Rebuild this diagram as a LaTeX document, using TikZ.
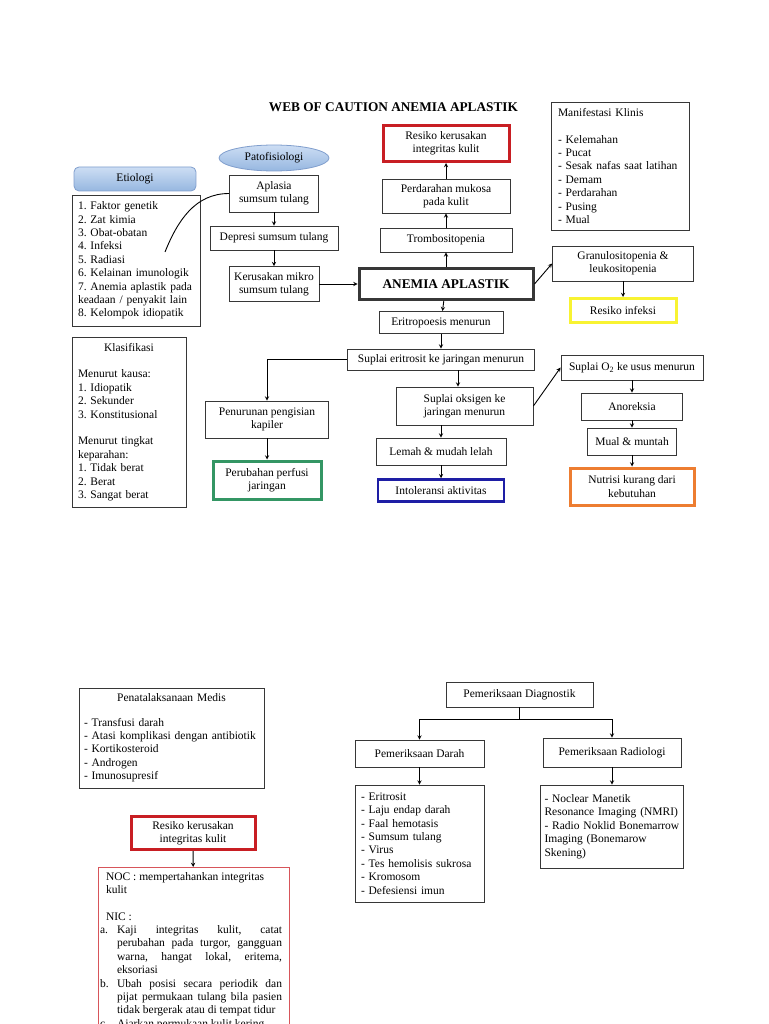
\documentclass[tikz,border=0pt]{standalone}
\usepackage{fontspec}
\setmainfont{Liberation Serif}
\usetikzlibrary{shapes.geometric, positioning, calc, arrows}

\definecolor{boxline}{RGB}{55,55,55}
\definecolor{riskred}{RGB}{200,30,35}
\definecolor{nicred}{RGB}{215,85,90}
\definecolor{perfgreen}{RGB}{52,150,100}
\definecolor{actblue}{RGB}{30,30,165}
\definecolor{nutorange}{RGB}{237,125,49}
\definecolor{infyellow}{RGB}{248,243,50}
\definecolor{paleblue}{RGB}{205,222,244}
\definecolor{midblue}{RGB}{150,183,224}
\definecolor{edgeblue}{RGB}{128,158,205}

\newcommand{\nicitem}[2]{\noindent\hangindent=17pt\hangafter=1\makebox[17pt][l]{#1}#2\par}

\begin{document}
\frenchspacing
\begin{tikzpicture}[->,>=stealth,x=1pt,y=-1pt,line width=0.9pt]
  \tikzstyle{every node}=[font=\fontsize{11.5}{13.4}\selectfont]
  \tikzstyle{box}=[draw=boxline,line width=0.8pt,align=center,inner sep=1pt]
  \tikzstyle{listbox}=[box,align=left,inner xsep=6pt]
  \tikzstyle{dxbox}=[box,line width=3pt]
  \tikzstyle{bubble}=[draw=edgeblue,line width=0.8pt,top color=paleblue,bottom color=midblue]

  \path[-,use as bounding box,fill=white] (0,0) rectangle (768,1024);

  \node[font=\fontsize{13.3}{15}\selectfont\bfseries] (title) at (393.5,107) {WEB OF CAUTION ANEMIA APLASTIK};

  \node[bubble,ellipse,minimum width=110pt,minimum height=26pt] (pato) at (274,158) {Patofisiologi};
  \node[bubble,rounded corners=5pt,minimum width=122pt,minimum height=24pt] (etio) at (135,179) {Etiologi};
  \node[listbox,text width=116pt,minimum height=131pt] (etlist) at (136,260.5)
    {1. Faktor genetik\\2. Zat kimia\\3. Obat-obatan\\4. Infeksi\\5. Radiasi\\6. Kelainan imunologik\\7. Anemia aplastik pada\\keadaan / penyakit lain\\8. Kelompok idiopatik};

  \node[box,minimum width=89pt,minimum height=37pt] (aplasia) at (274,193.5) {Aplasia\\sumsum tulang};
  \node[box,minimum width=128pt,minimum height=24pt] (depresi) at (274,238) {Depresi sumsum tulang};
  \node[box,minimum width=90pt,minimum height=35pt] (kerus) at (274,284) {Kerusakan mikro\\sumsum tulang};
  \coordinate (etiend) at (165,252);

  \node[box,line width=3pt,minimum width=174pt,minimum height=31pt,font=\fontsize{13.3}{15}\selectfont\bfseries] (anemia) at (446,284) {ANEMIA APLASTIK};
  \node[box,minimum width=132pt,minimum height=24pt] (trombo) at (446,240) {Trombositopenia};
  \node[box,minimum width=128pt,minimum height=34pt] (perdar) at (446,196) {Perdarahan mukosa\\pada kulit};
  \node[dxbox,draw=riskred,minimum width=126pt,minimum height=36pt] (resiko) at (446,143.5) {Resiko kerusakan\\integritas kulit};

  \node[listbox,inner xsep=7pt,text width=124pt,minimum height=128pt] (manif) at (620,166)
    {Manifestasi Klinis\\[13.4pt]- Kelemahan\\- Pucat\\- Sesak nafas saat latihan\\- Demam\\- Perdarahan\\- Pusing\\- Mual};
  \node[box,minimum width=141pt,minimum height=35pt] (granulo) at (623,263.5) {Granulositopenia \&\\leukositopenia};
  \node[dxbox,draw=infyellow,minimum width=106pt,minimum height=24pt] (infeksi) at (623,310.5) {Resiko infeksi};

  \node[box,minimum width=124pt,minimum height=22pt] (eritro) at (441,322.5) {Eritropoesis menurun};
  \node[box,minimum width=187pt,minimum height=21pt] (supleri) at (441,359.5) {Suplai eritrosit ke jaringan menurun};
  \node[box,minimum width=123pt,minimum height=37pt] (penurun) at (267,419.5) {Penurunan pengisian\\kapiler};
  \node[dxbox,draw=perfgreen,minimum width=108pt,minimum height=38pt] (perfusi) at (267,480) {Perubahan perfusi\\jaringan};
  \node[box,minimum width=137pt,minimum height=38pt] (supoks) at (464.5,406) {Suplai oksigen ke\\jaringan menurun};
  \node[box,minimum width=130pt,minimum height=27pt] (lemah) at (441,451.5) {Lemah \& mudah lelah};
  \node[box,line width=2.5pt,draw=actblue,minimum width=126pt,minimum height=22pt] (intol) at (441,490.5) {Intoleransi aktivitas};

  \node[box,minimum width=142pt,minimum height=25pt] (supo2) at (632,367.5) {Suplai O\textsubscript{2} ke usus menurun};
  \node[box,minimum width=101pt,minimum height=27pt] (anorek) at (632,406.5) {Anoreksia};
  \node[box,minimum width=89pt,minimum height=27pt] (mual) at (632,441.5) {Mual \& muntah};
  \node[dxbox,draw=nutorange,minimum width=124pt,minimum height=37pt] (nutrisi) at (632,486.5) {Nutrisi kurang dari\\kebutuhan};

  \node[listbox,text width=102pt,minimum height=170pt] (klas) at (129,422)
    {\hfill Klasifikasi\hfill\null\\[13.3pt]Menurut kausa:\\1. Idiopatik\\2. Sekunder\\3. Konstitusional\\[13.3pt]Menurut tingkat\\keparahan:\\1. Tidak berat\\2. Berat\\3. Sangat berat};

  \draw[-] (aplasia.west) to[out=180,in=68] (etiend);
  \path (aplasia) edge (depresi)
        (depresi) edge (kerus)
        (kerus) edge (anemia)
        (anemia) edge (trombo)
        (trombo) edge (perdar)
        (perdar) edge (resiko)
        (anemia.east) edge (granulo.west)
        (granulo) edge (infeksi)
        (anemia) edge (eritro)
        (eritro) edge (supleri)
        ([xshift=-6.5pt]supoks.north |- supleri.south) edge ([xshift=-6.5pt]supoks.north)
        (lemah.north |- supoks.south) edge (lemah.north)
        (lemah) edge (intol)
        (penurun) edge (perfusi)
        (supoks.east) edge (supo2.west)
        (supo2) edge (anorek)
        (anorek) edge (mual)
        (mual) edge (nutrisi);
  \draw (supleri.west) -| (penurun.north);

  \node[listbox,inner xsep=5pt,text width=175pt,minimum height=100pt] (penata) at (171.5,738)
    {\hfill Penatalaksanaan Medis\hfill\null\\[11pt]- Transfusi darah\\\mbox{- Atasi komplikasi dengan antibiotik}\\- Kortikosteroid\\- Androgen\\- Imunosupresif};
  \node[dxbox,draw=riskred,minimum width=124pt,minimum height=33pt] (resiko2) at (193,833) {Resiko kerusakan\\integritas kulit};
  \node[draw=nicred,line width=0.8pt,minimum width=191pt,minimum height=185pt,anchor=north] (nic) at (193.5,867) {};
  \node[anchor=north west,align=left,inner sep=0pt] (noc) at ([xshift=8pt,yshift=-5pt]nic.north west)
    {NOC : mempertahankan integritas\\kulit\\[13.4pt]NIC :};
  \node[anchor=north west,text width=182pt,align=justify,inner sep=0pt] (nicitems) at ([xshift=2pt,yshift=-58pt]nic.north west)
    {\nicitem{a.}{Kaji integritas kulit, catat\linebreak perubahan pada turgor, gangguan\linebreak warna, hangat lokal, eritema,\linebreak eksoriasi}
     \nicitem{b.}{Ubah posisi secara periodik dan\linebreak pijat permukaan tulang bila pasien\linebreak tidak bergerak atau di tempat tidur}
     \nicitem{c.}{Ajarkan permukaan kulit kering}};
  \path (resiko2) edge (nic);

  \node[box,minimum width=147pt,minimum height=25pt] (diag) at (519.5,694.5) {Pemeriksaan Diagnostik};
  \node[box,minimum width=129pt,minimum height=27pt] (darah) at (419.5,753.5) {Pemeriksaan Darah};
  \node[box,minimum width=138pt,minimum height=29pt] (radio) at (612,752.5) {Pemeriksaan Radiologi};
  \node[listbox,text width=117pt,minimum height=117pt] (darlist) at (419.5,843.5)
    {- Eritrosit\\- Laju endap darah\\- Faal hemotasis\\- Sumsum tulang\\- Virus\\- Tes hemolisis sukrosa\\- Kromosom\\- Defesiensi imun};
  \node[listbox,inner xsep=4pt,text width=135pt,minimum height=83pt] (radlist) at (612,826.5)
    {- Noclear Manetik\\Resonance Imaging (NMRI)\\- Radio Noklid Bonemarrow\\Imaging (Bonemarow\\Skening)};

  \draw[-] (diag.south) -- ++(0,12) coordinate (fork);
  \draw (fork) -| (darah.north);
  \draw (fork) -| (radio.north);
  \path (darah) edge (darlist)
        (radio) edge (radlist);
\end{tikzpicture}
\end{document}
